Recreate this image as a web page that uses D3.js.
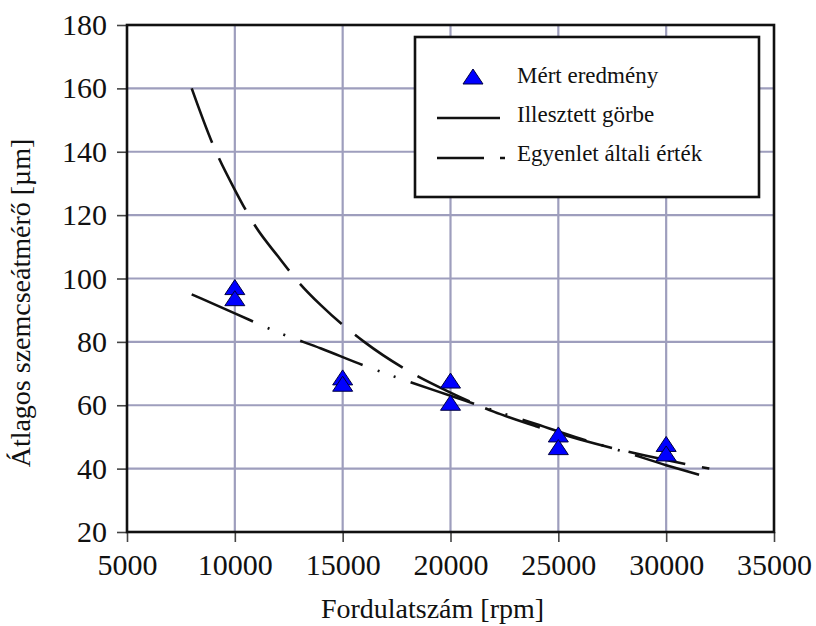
<!DOCTYPE html>
<html>
<head>
<meta charset="utf-8">
<script src="https://cdn.jsdelivr.net/npm/d3@7"></script>
<style>
  html, body { margin: 0; padding: 0; background: #fff; }
  svg { display: block; }
</style>
</head>
<body>
<svg id="chart" width="816" height="626"></svg>
<script>
// Measured grain size at each spindle speed (two samples per speed)
const measuredRpm   = [10000, 10000, 15000, 15000, 20000, 20000, 25000, 25000, 30000, 30000];
const measuredSize  = [96.5, 93, 68, 66, 67, 60, 50, 46, 47, 44];

// Fitted curve ("Illesztett görbe")
const fitRpm  = [8000, 10000, 12000, 14000, 16000, 18000, 20000, 22000, 24000, 26000, 28000, 30000, 32000];
const fitSize = [95, 89, 83, 77.9, 72.5, 67.6, 63, 58.4, 54, 49.5, 45.4, 41.1, 37.1];

// Values given by the equation ("Egyenlet általi érték")
const eqRpm  = [8000, 9000, 10000, 11000, 12000, 13000, 14000, 16000, 18000, 20000, 22000, 24000, 26000, 28000, 30000, 32000];
const eqSize = [160, 142, 128, 116, 107, 98.5, 91.5, 80, 71, 64, 58, 53.3, 49.2, 45.7, 42.7, 40];

const xTicks = [5000, 10000, 15000, 20000, 25000, 30000, 35000];
const yTicks = [20, 40, 60, 80, 100, 120, 140, 160, 180];

const legendLabels = ["Mért eredmény", "Illesztett görbe", "Egyenlet általi érték"];
const xTitle = "Fordulatszám [rpm]";
const yTitle = "Átlagos szemcseátmérő [µm]";

const FONT = "Liberation Serif, Tinos, Times New Roman, DejaVu Serif, serif";

const svg = d3.select("#chart");
const plotLeft = 127, plotRight = 774, plotTop = 25, plotBottom = 532;

const x = d3.scaleLinear().domain([5000, 35000]).range([plotLeft, plotRight]);
const y = d3.scaleLinear().domain([20, 180]).range([plotBottom, plotTop]);

const gridColor = "#9e9ebd";

// shared text helper
function styleText(sel, size) {
  return sel.attr("font-family", FONT)
    .style("font-family", FONT)
    .attr("font-size", size)
    .attr("fill", "#111");
}

// grid
svg.append("g").selectAll("line").data(xTicks.slice(1, -1)).join("line")
  .attr("x1", d => x(d)).attr("x2", d => x(d))
  .attr("y1", plotTop).attr("y2", plotBottom)
  .attr("stroke", gridColor).attr("stroke-width", 2.2);
svg.append("g").selectAll("line").data(yTicks.slice(1, -1)).join("line")
  .attr("y1", d => y(d)).attr("y2", d => y(d))
  .attr("x1", plotLeft).attr("x2", plotRight)
  .attr("stroke", gridColor).attr("stroke-width", 2.2);

// axes (ticks + labels)
const xAxis = svg.append("g").attr("transform", `translate(0,${plotBottom})`)
  .call(d3.axisBottom(x).tickValues(xTicks).tickFormat(d3.format("d")).tickSize(10).tickPadding(12));
const yAxis = svg.append("g").attr("transform", `translate(${plotLeft},0)`)
  .call(d3.axisLeft(y).tickValues(yTicks).tickFormat(d3.format("d")).tickSize(10).tickPadding(10));
[xAxis, yAxis].forEach(g => {
  g.attr("font-family", FONT).attr("font-size", 30);
  g.select(".domain").remove();
  g.selectAll(".tick line").attr("stroke", "#444").attr("stroke-width", 1.6);
  styleText(g.selectAll(".tick text"), 30);
});

// frame
svg.append("rect")
  .attr("x", plotLeft).attr("y", plotTop)
  .attr("width", plotRight - plotLeft).attr("height", plotBottom - plotTop)
  .attr("fill", "none").attr("stroke", "#111").attr("stroke-width", 2.6);

// curves
const line = d3.line().x(d => x(d[0])).y(d => y(d[1])).curve(d3.curveMonotoneX);

const eqDash = "58,17";
const fitDash = "67,16,2,15,2,16";

svg.append("path")
  .datum(eqRpm.map((r, i) => [r, eqSize[i]]))
  .attr("d", line)
  .attr("fill", "none").attr("stroke", "#111").attr("stroke-width", 2.6)
  .attr("stroke-dasharray", eqDash);

svg.append("path")
  .datum(fitRpm.map((r, i) => [r, fitSize[i]]))
  .attr("d", line)
  .attr("fill", "none").attr("stroke", "#111").attr("stroke-width", 2.6)
  .attr("stroke-dasharray", fitDash);

// triangle marker, centred on its centroid
const tri = "M0,-10L10,5L-10,5Z";

svg.append("g").selectAll("path")
  .data(measuredRpm.map((r, i) => [r, measuredSize[i]]))
  .join("path")
  .attr("d", tri)
  .attr("transform", d => `translate(${x(d[0])},${y(d[1])})`)
  .attr("fill", "#0000ff").attr("stroke", "#000040").attr("stroke-width", 1);

// legend
const lg = svg.append("g");
lg.append("rect")
  .attr("x", 415).attr("y", 37).attr("width", 344).attr("height", 160)
  .attr("fill", "#fff").attr("stroke", "#111").attr("stroke-width", 2.6);

lg.append("path").attr("d", tri).attr("transform", "translate(473,79)")
  .attr("fill", "#0000ff").attr("stroke", "#000040").attr("stroke-width", 1);
lg.append("line").attr("x1", 437).attr("x2", 500).attr("y1", 118).attr("y2", 118)
  .attr("stroke", "#111").attr("stroke-width", 2.6);
lg.append("line").attr("x1", 437).attr("x2", 505).attr("y1", 158).attr("y2", 158)
  .attr("stroke", "#111").attr("stroke-width", 2.6).attr("stroke-dasharray", "47,16,5,100");

const legendY = [83, 122, 161];
styleText(lg.selectAll("text").data(legendLabels).join("text")
  .attr("x", 517).attr("y", (d, i) => legendY[i]), 23)
  .text(d => d);

// axis titles
styleText(svg.append("text")
  .attr("x", (plotLeft + plotRight) / 2 - 18).attr("y", 618)
  .attr("text-anchor", "middle"), 28)
  .text(xTitle);

styleText(svg.append("text")
  .attr("transform", "translate(30,303) rotate(-90)")
  .attr("text-anchor", "middle"), 28)
  .text(yTitle);
</script>
</body>
</html>
